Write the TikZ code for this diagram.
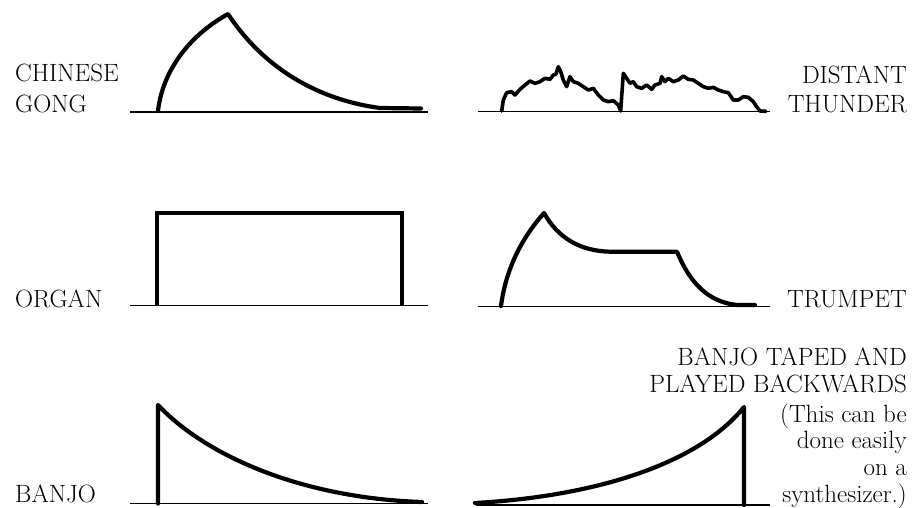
\documentclass[tikz,border=0pt]{standalone}
\begin{document}
\begin{tikzpicture}[x=1pt,y=-1pt,
  wave/.style={line width=4.2pt,line join=round,line cap=round},
  axis/.style={line width=1.3pt},
  lbl/.style={inner sep=0pt,font=\fontsize{25}{29}\selectfont}]
\useasboundingbox (0,0) rectangle (915,508);
% ---------- Chinese gong ----------
\coordinate (g0) at (130,112); \coordinate (g1) at (428,112);
\draw[axis] (g0) -- (g1);
\draw[wave] (158,111) .. controls (162,75) and (185,38) .. (228,14)
  .. controls (265,70) and (320,100) .. (380,108) -- (421,108.5);
\node[lbl,anchor=base west] (cg1) at (15,82) {CHINESE};
\node[lbl,anchor=base west] (cg2) at (15,113) {GONG};
% ---------- distant thunder ----------
\coordinate (t0) at (478,111.5); \coordinate (t1) at (770,111.5);
\draw[axis] (t0) -- (t1);
\begin{scope}[shift={(470,50)},x=0.3333pt,y=-0.3333pt]
\draw[wave,line width=3.6pt] (95,183) -- (100,150) -- (110,128) -- (125,125) -- (135,135) -- (150,118) -- (165,105) -- (180,93) -- (195,100) -- (210,95) -- (225,85) -- (240,88) -- (250,75) -- (258,72) -- (265,50) -- (272,65) -- (280,90) -- (290,110) -- (300,80) -- (310,95) -- (325,100) -- (340,110) -- (355,120) -- (370,115) -- (385,135) -- (400,150) -- (415,155) -- (430,152) -- (445,165) -- (452,183) -- (460,70) -- (470,85) -- (480,100) -- (490,95) -- (500,110) -- (515,115) -- (530,105) -- (545,118) -- (555,105) -- (570,100) -- (575,80) -- (585,95) -- (595,85) -- (610,95) -- (625,90) -- (640,78) -- (655,88) -- (670,90) -- (685,100) -- (700,110) -- (715,115) -- (730,112) -- (745,120) -- (760,125) -- (775,128) -- (790,150) -- (805,150) -- (820,140) -- (835,142) -- (850,155) -- (860,170) -- (870,183) -- (888,184);
\end{scope}
\node[lbl,anchor=base east] (dt1) at (907,84) {DISTANT};
\node[lbl,anchor=base east] (dt2) at (907,113) {THUNDER};
% ---------- organ ----------
\coordinate (o0) at (130,305.5); \coordinate (o1) at (428,305.5);
\draw[axis] (o0) -- (o1);
\draw[wave,line cap=butt,line join=miter] (157,305.5) -- (157,213) -- (402,213) -- (402,305.5);
\node[lbl,anchor=base west] (org) at (15,307) {ORGAN};
% ---------- trumpet ----------
\coordinate (p0) at (478,306.5); \coordinate (p1) at (770,306.5);
\draw[axis] (p0) -- (p1);
\draw[wave] (501,306) .. controls (506,268) and (522,238) .. (544,213)
  .. controls (558,238) and (580,251) .. (610,251.7) -- (677,251.7)
  .. controls (690,283) and (708,302) .. (737,305) -- (755,305);
\node[lbl,anchor=base east] (tr) at (907,307) {TRUMPET};
% ---------- banjo ----------
\coordinate (b0) at (130,503.5); \coordinate (b1) at (428,503.5);
\draw[axis] (b0) -- (b1);
\draw[wave] (158,503.5) -- (158,405) .. controls (205,455) and (300,498) .. (422,502);
\node[lbl,anchor=base west] (bj) at (15,502) {BANJO};
% ---------- banjo backwards ----------
\coordinate (r0) at (476,505); \coordinate (r1) at (770,505);
\draw[axis] (r0) -- (r1);
\draw[wave] (475,503) .. controls (600,496) and (700,462) .. (744,407) -- (744,505);
\node[lbl,anchor=base east] (bb1) at (907,365) {BANJO TAPED AND};
\node[lbl,anchor=base east] (bb2) at (907,392) {PLAYED BACKWARDS};
\node[lbl,anchor=base east] (bb3) at (907,422) {(This can be};
\node[lbl,anchor=base east] (bb4) at (907,448) {done easily};
\node[lbl,anchor=base east] (bb5) at (907,475) {on a};
\node[lbl,anchor=base east] (bb6) at (907,502) {synthesizer.)};
\end{tikzpicture}
\end{document}
